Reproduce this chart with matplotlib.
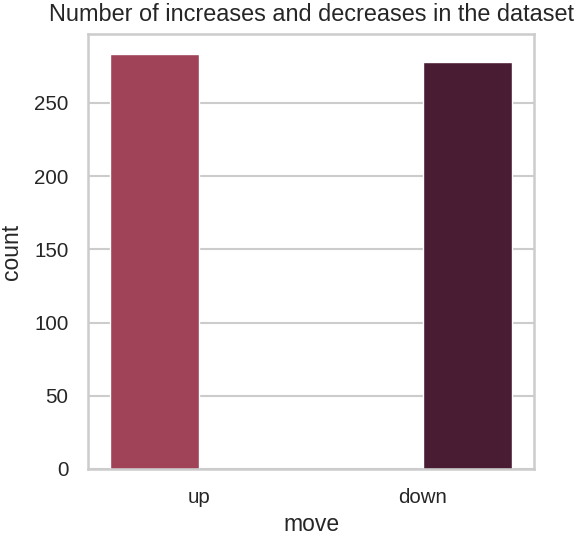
import matplotlib
matplotlib.use("Agg")
import matplotlib.pyplot as plt
import seaborn as sns

# counts per move direction
moves = ["up", "down"]
counts = [283, 278]
bar_colors = ["#a04358", "#4a1c34"]

sns.set_theme(style="whitegrid")
plt.rcParams['font.family'] = ['Liberation Sans', 'DejaVu Sans']

fig = plt.figure(figsize=(5.77, 5.36), dpi=100)
ax = fig.add_axes([0.1525, 0.125, 0.773, 0.8116])

sns.barplot(x=moves, y=counts, hue=moves, dodge=True, palette=bar_colors,
            saturation=1, legend=False, ax=ax)

ax.set_ylim(0, 297)
ax.set_yticks([0, 50, 100, 150, 200, 250])
ax.set_xlabel("move", fontsize=16.5, color="#262626", labelpad=4)
ax.set_ylabel("count", fontsize=16.5, color="#262626", labelpad=8)
ax.set_title("Number of increases and decreases in the dataset", fontsize=16.9,
             color="#262626", pad=9)
ax.tick_params(axis="both", labelsize=14.8, colors="#262626", pad=8)
ax.grid(axis="y", color="#cccccc", linewidth=1.5)
ax.grid(axis="x", visible=False)
for s in ax.spines.values():
    s.set_color("#cccccc")
    s.set_linewidth(1.8)

fig.savefig("out.png", dpi=100)
